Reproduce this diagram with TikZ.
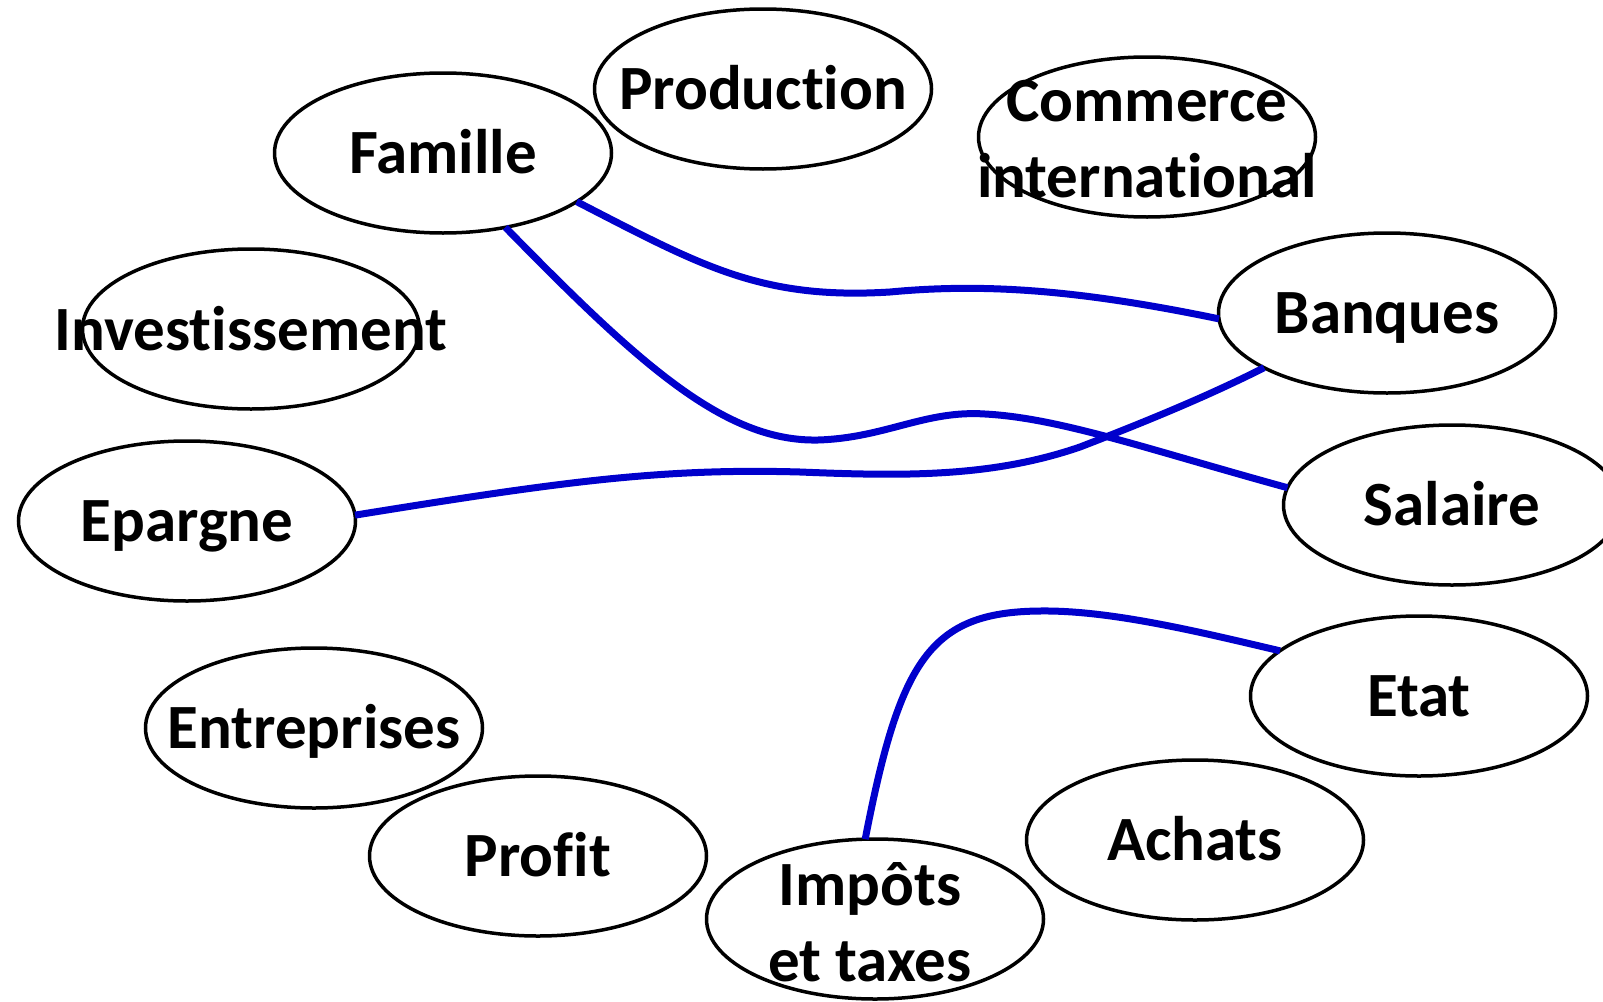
\documentclass[tikz,border=0pt]{standalone}
\usepackage{fontspec}
\setmainfont{Carlito}[Ligatures={NoCommon,NoContextual}]
\usepackage{tikz}
\usetikzlibrary{shapes}
\definecolor{lienbleu}{RGB}{0,0,204}

\begin{document}
\begin{tikzpicture}[x=1pt,y=-1pt,
			bulle/.style={draw,ellipse,line width=3.5pt,minimum width=337pt,minimum height=160pt,inner sep=0pt,outer sep=0pt},
			mot/.style={font=\bfseries\fontsize{63}{77}\selectfont,text height=40pt,text depth=0pt,inner sep=0pt},
			mots/.style={font=\bfseries\fontsize{63}{76}\selectfont,align=center,inner sep=0pt},
			lien/.style={draw=lienbleu,line width=7pt}]
			\path[use as bounding box,clip] (0,0) rectangle (1603,1001);
			
			\node[bulle] (famille) at (443,153) {};
			\node[bulle] (production) at (763,89) {};
			\node[bulle] (commerce) at (1147,137) {};
			\node[bulle] (investissement) at (251,329) {};
			\node[bulle] (banques) at (1387,313) {};
			\node[bulle] (epargne) at (187,521) {};
			\node[bulle] (salaire) at (1452,505) {};
			\node[bulle] (entreprises) at (314,728) {};
			\node[bulle] (profit) at (538,856) {};
			\node[bulle] (impots) at (875,919) {};
			\node[bulle] (achats) at (1195,840) {};
			\node[bulle] (etat) at (1419,696) {};
			
			\node[mot] (famille-t) at (famille) {Famille};
			\node[mot] (production-t) at (production) {Production};
			\node[mots] (commerce-t) at (1147,139) {Commerce\\international};
			\node[mot] (investissement-t) at (251,330) {Investissement};
			\node[mot] (banques-t) at (banques) {Banques};
			\node[mot] (epargne-t) at (epargne) {Epargne};
			\node[mot] (salaire-t) at (salaire) {Salaire};
			\node[mot] (entreprises-t) at (entreprises) {Entreprises};
			\node[mot] (profit-t) at (profit) {Profit};
			\node[mots] (impots-t) at (870,922) {Impôts\\et taxes};
			\node[mot] (achats-t) at (achats) {Achats};
			\node[mot] (etat-t) at (etat) {Etat};
			
			%liens
			\draw[lien] (famille.-20) .. controls (700,265) and (760,300) .. (890,292)
				.. controls (985,283) and (1080,290) .. (banques.182);
			\draw[lien] (famille.-50) .. controls (640,365) and (725,442) .. (818,440)
				.. controls (885,438) and (925,410) .. (985,414)
				.. controls (1060,418) and (1150,450) .. (salaire.174);
			\draw[lien] (epargne.2) .. controls (560,482) and (660,468) .. (800,472)
				.. controls (900,476) and (990,478) .. (1080,447)
				.. controls (1150,420) and (1210,395) .. (banques.204);
			\draw[lien] (impots.97) .. controls (900,660) and (930,612) .. (1040,611)
				.. controls (1110,610) and (1200,632) .. (etat.162);
\end{tikzpicture}
\end{document}
